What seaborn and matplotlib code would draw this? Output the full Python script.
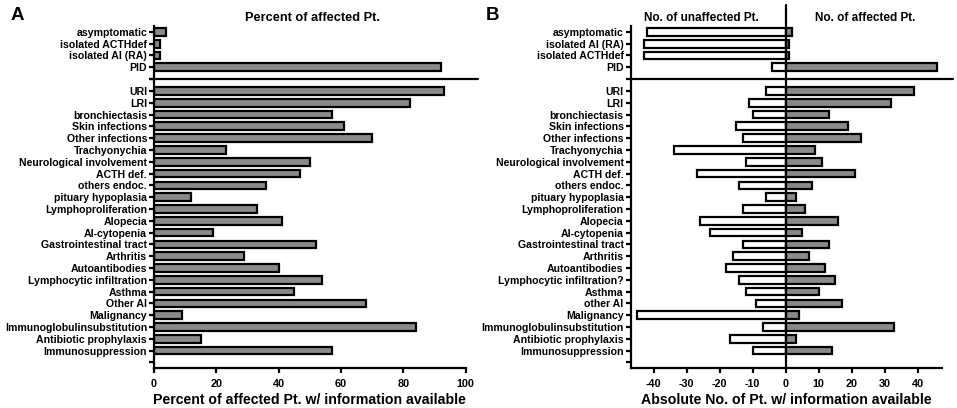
import matplotlib
matplotlib.use("Agg")
import matplotlib.pyplot as plt
import matplotlib.transforms as mtransforms
import seaborn as sns
import pandas as pd

# ---------------- data ----------------
top_a = ["asymptomatic", "isolated ACTHdef", "isolated AI (RA)", "PID"]
top_a_pct = [4, 2, 2, 92]

bottom_a = ["URI", "LRI", "bronchiectasis", "Skin infections", "Other infections",
            "Trachyonychia", "Neurological involvement", "ACTH def.", "others endoc.",
            "pituary hypoplasia", "Lymphoproliferation", "Alopecia", "AI-cytopenia",
            "Gastrointestinal tract", "Arthritis", "Autoantibodies",
            "Lymphocytic infiltration", "Asthma", "Other AI", "Malignancy",
            "Immunoglobulinsubstitution", "Antibiotic prophylaxis", "Immunosuppression"]
bottom_a_pct = [93, 82, 57, 61, 70, 23, 50, 47, 36, 12, 33, 41, 19, 52, 29, 40,
                54, 45, 68, 9, 84, 15, 57]

top_b = ["asymptomatic", "isolated AI (RA)", "isolated ACTHdef", "PID"]
top_b_unaff = [42, 43, 43, 4]
top_b_aff = [2, 1, 1, 46]

bottom_b = ["URI", "LRI", "bronchiectasis", "Skin infections", "Other infections",
            "Trachyonychia", "Neurological involvement", "ACTH def.", "others endoc.",
            "pituary hypoplasia", "Lymphoproliferation", "Alopecia", "AI-cytopenia",
            "Gastrointestinal tract", "Arthritis", "Autoantibodies",
            "Lymphocytic infiltration?", "Asthma", "other AI", "Malignancy",
            "Immunoglobulinsubstitution", "Antibiotic prophylaxis", "Immunosuppression"]
bottom_b_unaff = [6, 11, 10, 15, 13, 34, 12, 27, 14, 6, 13, 26, 23, 13, 16, 18,
                  14, 12, 9, 45, 7, 17, 10]
bottom_b_aff = [39, 32, 13, 19, 23, 9, 11, 21, 8, 3, 6, 16, 5, 13, 7, 12,
                15, 10, 17, 4, 33, 3, 14]

xticks_a = [0, 20, 40, 60, 80, 100]
xticks_b = [-40, -30, -20, -10, 0, 10, 20, 30, 40]

# ---------------- style ----------------
sns.set_style("ticks")
plt.rcParams['font.family'] = ['Liberation Sans', 'DejaVu Sans']
plt.rcParams['font.weight'] = 'bold'
plt.rcParams['axes.unicode_minus'] = False
for key in ("text.color", "axes.labelcolor", "xtick.color", "ytick.color",
            "axes.edgecolor"):
    plt.rcParams[key] = "black"

GRAY = "#8a8a8a"
LW = 1.6
SEP = " "
END = "  "

order_a = top_a + [SEP] + bottom_a + [END]
order_b = top_b + [SEP] + bottom_b + [END]

df_a = pd.DataFrame({"cat": top_a + bottom_a, "val": top_a_pct + bottom_a_pct})
df_b = pd.DataFrame({
    "cat": top_b + bottom_b,
    "unaff": [-v for v in top_b_unaff + bottom_b_unaff],
    "aff": top_b_aff + bottom_b_aff,
})

fig = plt.figure(figsize=(9.57, 4.08), dpi=100)
axA = fig.add_axes([0.1609, 0.0973, 0.3257, 0.839])
axB = fig.add_axes([0.6590, 0.0973, 0.3256, 0.839])

# Panel A
sns.barplot(data=df_a, y="cat", x="val", order=order_a, orient="h", ax=axA,
            color=GRAY, saturation=1, edgecolor="black", linewidth=LW, width=0.65)
axA.set_xlim(0, 100)
axA.set_xticks(xticks_a)

# Panel B
sns.barplot(data=df_b, y="cat", x="unaff", order=order_b, orient="h", ax=axB,
            color="white", saturation=1, edgecolor="black", linewidth=LW, width=0.65)
sns.barplot(data=df_b, y="cat", x="aff", order=order_b, orient="h", ax=axB,
            color=GRAY, saturation=1, edgecolor="black", linewidth=LW, width=0.65)
axB.set_xlim(-47, 47.5)
axB.set_xticks(xticks_b)

for ax in (axA, axB):
    ax.set_ylim(len(order_a) - 0.5, -0.5)
    ax.set_ylabel("")
    sns.despine(ax=ax)
    for s in ("left", "bottom"):
        ax.spines[s].set_linewidth(LW)
        ax.spines[s].set_color("black")
    ax.tick_params(axis="y", width=LW, length=3.5, labelsize=7.6, pad=1.5,
                   colors="black")
    ax.tick_params(axis="x", width=LW, length=3.5, labelsize=7.8, pad=4,
                   colors="black")
    for lab in ax.get_yticklabels() + ax.get_xticklabels():
        lab.set_fontweight("bold")
    trans = mtransforms.blended_transform_factory(ax.transAxes, ax.transData)
    x0, x1 = (-0.012, 1.04) if ax is axA else (0.0, 1.034)
    ax.plot([x0, x1], [4, 4], color="black", lw=LW, transform=trans, clip_on=False)

axA.set_xlabel("Percent of affected Pt. w/ information available",
               fontsize=10.2, fontweight="bold", labelpad=3, color="black")
axB.set_xlabel("Absolute No. of Pt. w/ information available",
               fontsize=10.2, fontweight="bold", labelpad=3, color="black")

# zero line in B extending above the axes
axB.plot([0, 0], [len(order_b) - 0.5, -2.3], color="black", lw=LW, clip_on=False, zorder=3)

# headers
axA.text(51, -1.15, "Percent of affected Pt.", ha="center", va="center",
         fontsize=9.2, fontweight="bold", color="black")
axB.text(-25.5, -1.15, "No. of unaffected Pt.", ha="center", va="center",
         fontsize=8.5, fontweight="bold", color="black")
axB.text(24, -1.15, "No. of affected Pt.", ha="center", va="center",
         fontsize=8.5, fontweight="bold", color="black")

fig.text(0.0105, 0.962, "A", fontsize=13.5, fontweight="bold", ha="left", va="center",
         color="black")
fig.text(0.508, 0.962, "B", fontsize=13.5, fontweight="bold", ha="left", va="center",
         color="black")

fig.savefig("out.png", dpi=100)
